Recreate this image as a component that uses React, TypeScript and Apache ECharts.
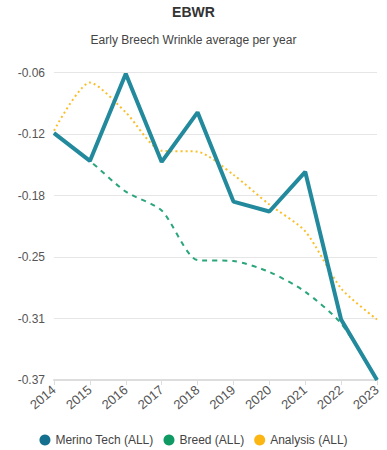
import React, { useEffect, useRef } from "react";
import * as echarts from "echarts";

const years = ["2014", "2015", "2016", "2017", "2018", "2019", "2020", "2021", "2022", "2023"];
const merino = [-0.121, -0.149, -0.061, -0.15, -0.1, -0.19, -0.2, -0.16, -0.309, -0.37];
const breed = [-0.121, -0.149, -0.18, -0.199, -0.249, -0.25, -0.261, -0.281, -0.313, -0.37];
const analysis = [-0.1185, -0.07, -0.1, -0.1387, -0.1397, -0.163, -0.193, -0.22, -0.2776, -0.309];
const yMin = -0.37;
const yMax = -0.06;
const yInterval = 0.062;

export default function App() {
  const ref = useRef<HTMLDivElement>(null);
  useEffect(() => {
    if (!ref.current) return;
    const chart = echarts.init(ref.current, undefined, { renderer: "svg" });
    const font = "'Liberation Sans', Arial, sans-serif";
    chart.setOption({
      animation: false,
      textStyle: { fontFamily: font },
      title: [
        {
          text: "EBWR",
          left: "center",
          top: 5,
          padding: 0,
          textStyle: { fontSize: 14, fontWeight: 900, color: "#333", fontFamily: font },
        },
        {
          text: "Early Breech Wrinkle average per year",
          left: "center",
          top: 34,
          padding: 0,
          textStyle: { fontSize: 12, fontWeight: "normal", color: "#444", fontFamily: font },
        },
      ],
      legend: {
        bottom: 4,
        left: "center",
        padding: 0,
        icon: "circle",
        itemWidth: 11,
        itemHeight: 11,
        itemGap: 10,
        textStyle: { fontSize: 12, color: "#444", fontFamily: font },
        data: ["Merino Tech (ALL)", "Breed (ALL)", "Analysis (ALL)"],
      },
      grid: { left: 54, right: 10, top: 72.7, bottom: 70, containLabel: false },
      xAxis: {
        type: "category",
        data: years,
        boundaryGap: false,
        axisLine: { lineStyle: { color: "#ddd", width: 2 } },
        axisTick: { show: true, length: 5, lineStyle: { color: "#ddd" } },
        axisLabel: { rotate: 40, fontSize: 13, color: "#555", margin: 8, fontFamily: font },
        splitLine: { show: false },
      },
      yAxis: {
        type: "value",
        min: yMin,
        max: yMax,
        interval: yInterval,
        axisLine: { show: false },
        axisTick: { show: false },
        axisLabel: {
          fontSize: 12,
          color: "#555",
          margin: 9,
          fontFamily: font,
          formatter: (v: number) => v.toFixed(2),
        },
        splitLine: { lineStyle: { color: "#e6e6e6", width: 1 } },
      },
      series: [
        {
          name: "Merino Tech (ALL)",
          type: "line",
          data: merino,
          showSymbol: false,
          itemStyle: { color: "#15708f" },
          lineStyle: { color: "#228a9c", width: 4 },
          z: 3,
        },
        {
          name: "Breed (ALL)",
          type: "line",
          data: breed,
          showSymbol: false,
          smooth: 0.25,
          itemStyle: { color: "#0f9a64" },
          lineStyle: { color: "#2aa67a", width: 2, type: [5, 5] },
          z: 2,
        },
        {
          name: "Analysis (ALL)",
          type: "line",
          data: analysis,
          showSymbol: false,
          smooth: 0.25,
          itemStyle: { color: "#fbb614" },
          lineStyle: { color: "#fbbf2a", width: 2, type: [2, 3] },
          z: 2,
        },
      ],
    });
    return () => chart.dispose();
  }, []);
  return (
    <div
      ref={ref}
      style={{ position: "fixed", left: 0, top: 0, width: 387, height: 450, background: "#fff" }}
    />
  );
}
